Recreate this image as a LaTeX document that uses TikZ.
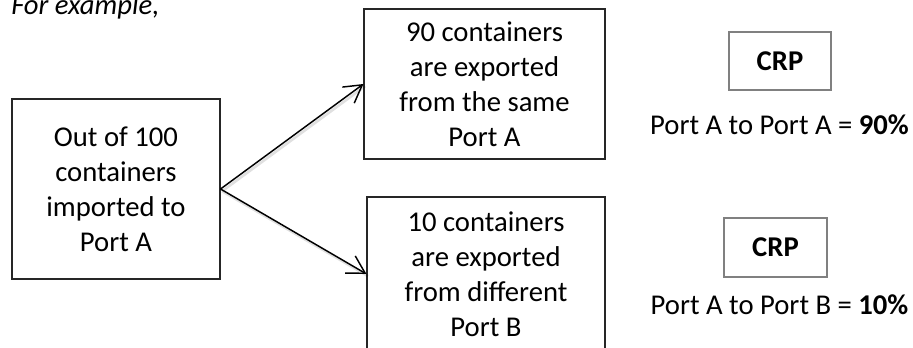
\documentclass[tikz,border=0pt]{standalone}
\usepackage{fontspec}
\setmainfont{Carlito}
\usetikzlibrary{arrows.meta}
\begin{document}
\begin{tikzpicture}[x=0.75pt,y=-0.75pt,
  txt/.style={font=\fontsize{21.5pt}{26.25pt}\selectfont},
  box/.style={txt,draw=black!85,line width=0.8pt,align=center,inner sep=0pt},
  crpbox/.style={draw=black!50,line width=1.1pt,inner sep=0pt,font=\fontsize{21.5pt}{26.25pt}\selectfont\bfseries},
  arr/.style={line width=1.1pt,-{Straight Barb[length=13pt,width=15pt,line width=1.1pt]}},
  shadow/.style={line width=2pt,draw=black,opacity=0.12,transform canvas={shift={(1.2pt,-1.6pt)}}}]
\useasboundingbox (0,0) rectangle (913,348);
\clip (0,0) rectangle (913,348);
\node[txt,anchor=base west,inner sep=0pt,font=\fontsize{21.5pt}{26.25pt}\selectfont\itshape] (ex) at (11,15) {For example,};
\node[box,minimum width=156pt,minimum height=135pt] (src) at (116,189) {Out of 100\\containers\\imported to\\Port A};
\node[box,minimum width=180.75pt,minimum height=112.5pt] (top) at (484.5,84) {90 containers\\are exported\\from the same\\Port A};
\node[box,minimum width=178.5pt,minimum height=115.5pt] (bot) at (486,274) {10 containers\\are exported\\from different\\Port B};
\node[crpbox,minimum width=76.5pt,minimum height=43.5pt] (crp1) at (780,61) {CRP};
\node[crpbox,minimum width=77.25pt,minimum height=44.25pt] (crp2) at (775.5,247.5) {CRP};
\node[txt,anchor=base,inner sep=0pt] (l1) at (779.5,135) {Port A to Port A = \textbf{90\%}};
\node[txt,anchor=base,inner sep=0pt] (l2) at (779.5,315) {Port A to Port B = \textbf{10\%}};
\draw[shadow] (src.east) -- (top.west);
\draw[shadow] (src.east) -- (bot.west);
\draw[arr] (src.east) -- (top.west);
\draw[arr] (src.east) -- (bot.west);
\end{tikzpicture}
\end{document}
